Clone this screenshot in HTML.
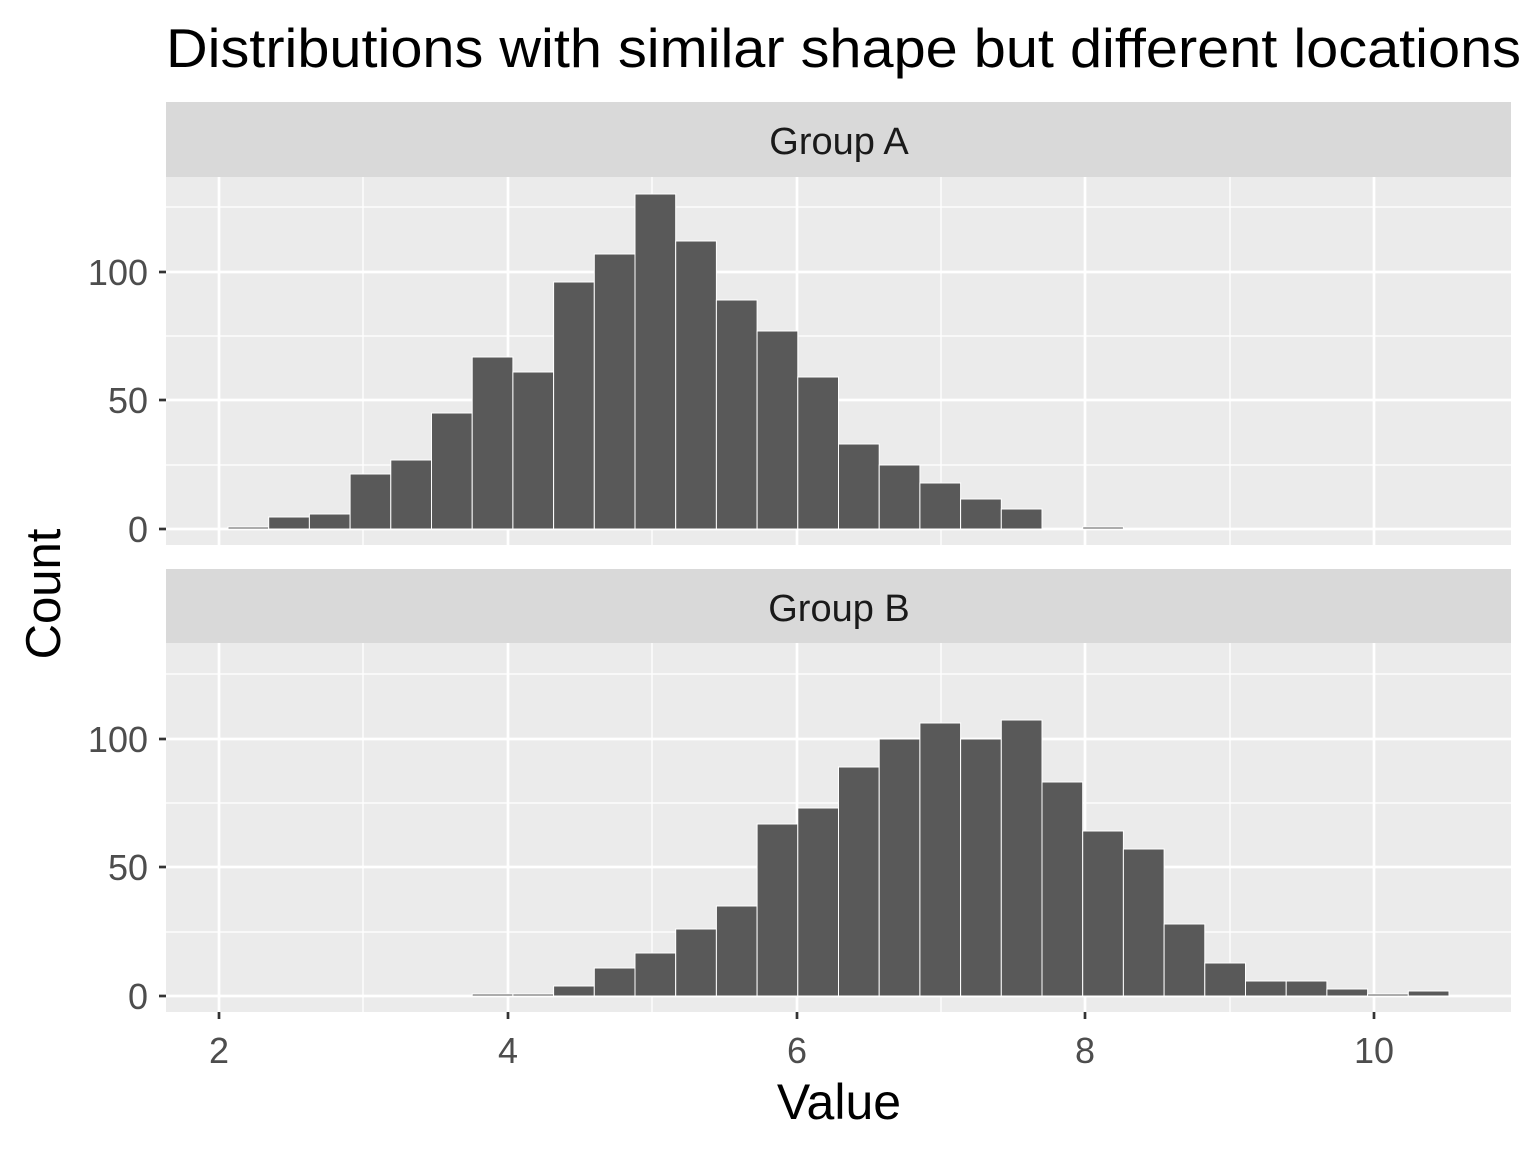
<!DOCTYPE html>
<html><head><style>body{margin:0;background:#fff}svg{display:block}</style></head><body>
<svg width="1536" height="1152" xmlns="http://www.w3.org/2000/svg" font-family="Liberation Sans, Arial, sans-serif">
<rect width="1536" height="1152" fill="#fff"/>
<text x="166" y="67" font-size="55" fill="#000" textLength="1355" lengthAdjust="spacingAndGlyphs">Distributions with similar shape but different locations</text>
<!-- Panel A -->
<rect x="166" y="102" width="1345" height="75" fill="#d9d9d9"/>
<text x="839" y="154" font-size="38" fill="#1a1a1a" text-anchor="middle">Group A</text>
<rect x="166" y="177" width="1345" height="368" fill="#ebebeb"/>
<g stroke="#fff" stroke-width="1.3">
<line x1="166" x2="1511" y1="465" y2="465"/><line x1="166" x2="1511" y1="336" y2="336"/><line x1="166" x2="1511" y1="207" y2="207"/>
<line x1="363" x2="363" y1="177" y2="545"/><line x1="652" x2="652" y1="177" y2="545"/><line x1="941" x2="941" y1="177" y2="545"/><line x1="1230" x2="1230" y1="177" y2="545"/>
</g>
<g stroke="#fff" stroke-width="2.7">
<line x1="166" x2="1511" y1="529" y2="529"/><line x1="166" x2="1511" y1="400" y2="400"/><line x1="166" x2="1511" y1="272" y2="272"/>
<line x1="219" x2="219" y1="177" y2="545"/><line x1="508" x2="508" y1="177" y2="545"/><line x1="797" x2="797" y1="177" y2="545"/><line x1="1085" x2="1085" y1="177" y2="545"/><line x1="1374" x2="1374" y1="177" y2="545"/>
</g>
<g fill="#595959" stroke="#fff" stroke-width="1">
<rect x="228" y="527" width="40.7" height="2"/>
<rect x="268.7" y="517" width="40.7" height="12"/>
<rect x="309.4" y="514" width="40.7" height="15"/>
<rect x="350.1" y="474" width="40.7" height="55"/>
<rect x="390.8" y="460" width="40.7" height="69"/>
<rect x="431.5" y="413" width="40.7" height="116"/>
<rect x="472.2" y="357" width="40.7" height="172"/>
<rect x="512.9" y="372" width="40.7" height="157"/>
<rect x="553.6" y="282" width="40.7" height="247"/>
<rect x="594.3" y="254" width="40.7" height="275"/>
<rect x="635" y="194" width="40.7" height="335"/>
<rect x="675.7" y="241" width="40.7" height="288"/>
<rect x="716.4" y="300" width="40.7" height="229"/>
<rect x="757.1" y="331" width="40.7" height="198"/>
<rect x="797.8" y="377" width="40.7" height="152"/>
<rect x="838.5" y="444" width="40.7" height="85"/>
<rect x="879.2" y="465" width="40.7" height="64"/>
<rect x="919.9" y="483" width="40.7" height="46"/>
<rect x="960.6" y="499" width="40.7" height="30"/>
<rect x="1001.3" y="509" width="40.7" height="20"/>
<rect x="1082.7" y="527" width="40.7" height="2"/>
</g>
<!-- Panel B -->
<rect x="166" y="569" width="1345" height="74" fill="#d9d9d9"/>
<text x="839" y="621" font-size="38" fill="#1a1a1a" text-anchor="middle">Group B</text>
<rect x="166" y="643" width="1345" height="369" fill="#ebebeb"/>
<g stroke="#fff" stroke-width="1.3">
<line x1="166" x2="1511" y1="932" y2="932"/><line x1="166" x2="1511" y1="803" y2="803"/><line x1="166" x2="1511" y1="674" y2="674"/>
<line x1="363" x2="363" y1="643" y2="1012"/><line x1="652" x2="652" y1="643" y2="1012"/><line x1="941" x2="941" y1="643" y2="1012"/><line x1="1230" x2="1230" y1="643" y2="1012"/>
</g>
<g stroke="#fff" stroke-width="2.7">
<line x1="166" x2="1511" y1="996" y2="996"/><line x1="166" x2="1511" y1="867" y2="867"/><line x1="166" x2="1511" y1="739" y2="739"/>
<line x1="219" x2="219" y1="643" y2="1012"/><line x1="508" x2="508" y1="643" y2="1012"/><line x1="797" x2="797" y1="643" y2="1012"/><line x1="1085" x2="1085" y1="643" y2="1012"/><line x1="1374" x2="1374" y1="643" y2="1012"/>
</g>
<g fill="#595959" stroke="#fff" stroke-width="1">
<rect x="472.2" y="994" width="40.7" height="2"/>
<rect x="512.9" y="994" width="40.7" height="2"/>
<rect x="553.6" y="986" width="40.7" height="10"/>
<rect x="594.3" y="968" width="40.7" height="28"/>
<rect x="635" y="953" width="40.7" height="43"/>
<rect x="675.7" y="929" width="40.7" height="67"/>
<rect x="716.4" y="906" width="40.7" height="90"/>
<rect x="757.1" y="824" width="40.7" height="172"/>
<rect x="797.8" y="808" width="40.7" height="188"/>
<rect x="838.5" y="767" width="40.7" height="229"/>
<rect x="879.2" y="739" width="40.7" height="257"/>
<rect x="919.9" y="723" width="40.7" height="273"/>
<rect x="960.6" y="739" width="40.7" height="257"/>
<rect x="1001.3" y="720" width="40.7" height="276"/>
<rect x="1042" y="782" width="40.7" height="214"/>
<rect x="1082.7" y="831" width="40.7" height="165"/>
<rect x="1123.4" y="849" width="40.7" height="147"/>
<rect x="1164.1" y="924" width="40.7" height="72"/>
<rect x="1204.8" y="963" width="40.7" height="33"/>
<rect x="1245.5" y="981" width="40.7" height="15"/>
<rect x="1286.2" y="981" width="40.7" height="15"/>
<rect x="1326.9" y="989" width="40.7" height="7"/>
<rect x="1367.6" y="994" width="40.7" height="2"/>
<rect x="1408.3" y="991" width="40.7" height="5"/>
</g>
<!-- ticks -->
<g stroke="#333" stroke-width="2.7">
<line x1="159" x2="166" y1="529" y2="529"/><line x1="159" x2="166" y1="400" y2="400"/><line x1="159" x2="166" y1="272" y2="272"/>
<line x1="159" x2="166" y1="996" y2="996"/><line x1="159" x2="166" y1="867" y2="867"/><line x1="159" x2="166" y1="739" y2="739"/>
<line x1="219" x2="219" y1="1012" y2="1019"/><line x1="508" x2="508" y1="1012" y2="1019"/><line x1="797" x2="797" y1="1012" y2="1019"/><line x1="1085" x2="1085" y1="1012" y2="1019"/><line x1="1374" x2="1374" y1="1012" y2="1019"/>
</g>
<g font-size="36" fill="#4d4d4d" text-anchor="end">
<text x="148" y="542">0</text><text x="148" y="413">50</text><text x="148" y="285">100</text>
<text x="148" y="1009">0</text><text x="148" y="880">50</text><text x="148" y="752">100</text>
</g>
<g font-size="36" fill="#4d4d4d" text-anchor="middle">
<text x="219" y="1063">2</text><text x="508" y="1063">4</text><text x="797" y="1063">6</text><text x="1085" y="1063">8</text><text x="1374" y="1063">10</text>
</g>
<text x="839" y="1119" font-size="50" text-anchor="middle">Value</text>
<text transform="translate(60,594) rotate(-90)" font-size="49" text-anchor="middle">Count</text>
</svg>
</body></html>
